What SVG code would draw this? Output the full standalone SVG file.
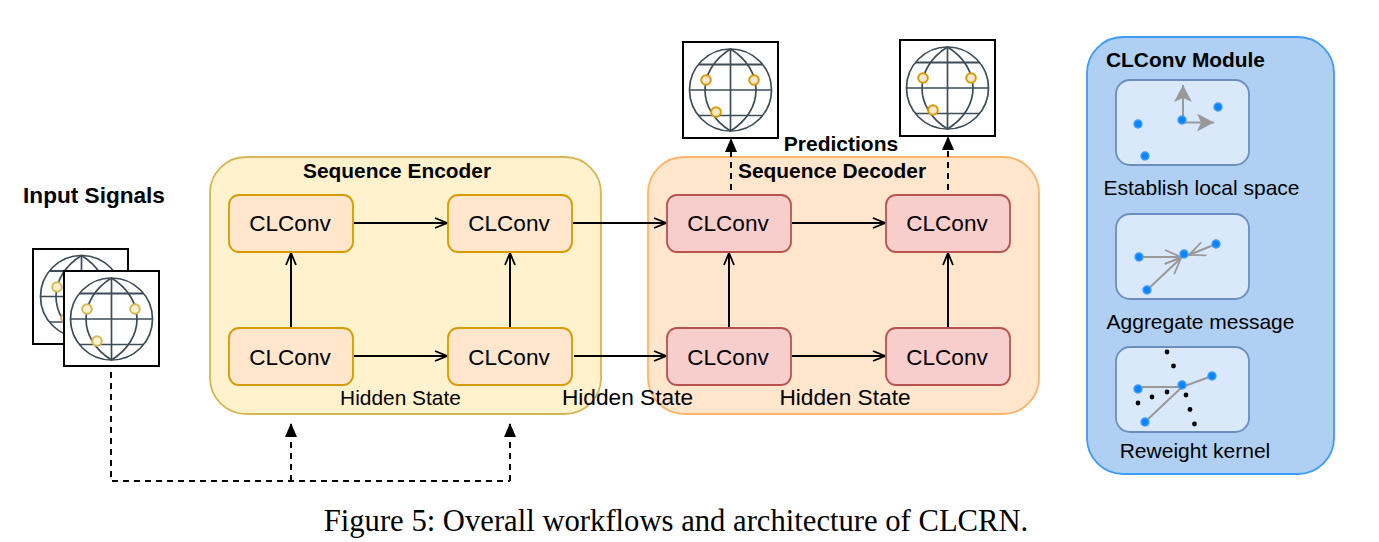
<svg xmlns="http://www.w3.org/2000/svg" xmlns:xlink="http://www.w3.org/1999/xlink" width="1379" height="542" viewBox="0 0 1379 542">
<style>
text{font-family:"Liberation Sans",Arial,sans-serif;fill:#000}
.b{font-weight:bold}
.n{font-size:22.6px;text-anchor:middle}
.enc rect{fill:#ffe6cc;stroke:#d79b00;stroke-width:1.8}
.dec rect{fill:#f8cecc;stroke:#b85450;stroke-width:1.8}
.frame{fill:#fff;stroke:#000;stroke-width:2}
.c{fill:none;stroke:#000;stroke-width:2}
.d{stroke-dasharray:6 5}
.m{fill:none;stroke:#333;stroke-width:1.8}
.in{fill:#dae8fc;stroke:#6c8ebf;stroke-width:1.8}
.g{fill:none;stroke:#999;stroke-width:2}
.p{fill:#0a84ff;stroke:#3d9bfa;stroke-width:1.5}
.k{fill:#000}
.dotY{fill:#fff2cc;stroke:#d6b656;stroke-width:2}
.dotO{fill:#ffe6cc;stroke:#d79b00;stroke-width:2}
</style>
<defs>
<g id="globe" fill="none" stroke="#3c4d58" stroke-width="1.700">
<circle r="41"/>
<path d="M0-41C-34-20-34 20 0 41C34 20 34-20 0-41Z"/>
<path d="M0-41V41M-41 0H41M-32 25.500H32"/>
<path d="M-32-25.500H32" stroke-width="2.200"/>
</g>
<marker id="o" markerWidth="15" markerHeight="13" refX="13" refY="6" orient="auto" markerUnits="userSpaceOnUse"><path d="M1 1 13 6 1 11" fill="none" stroke="#000" stroke-width="1.800"/></marker>
<marker id="om" markerWidth="18" markerHeight="14" refX="15" refY="6" orient="auto" markerUnits="userSpaceOnUse"><path d="M1 1 15 6 1 11" fill="none" stroke="#333" stroke-width="1.800"/></marker>
<marker id="f" markerWidth="14" markerHeight="14" refX="13" refY="6" orient="auto" markerUnits="userSpaceOnUse"><path d="M0 0 14 6 0 12Z" fill="#000"/></marker>
<marker id="gf" markerWidth="18" markerHeight="20" refX="17" refY="9" orient="auto" markerUnits="userSpaceOnUse"><path d="M0 0 17 9 0 18 4 9Z" fill="#999"/></marker>
<marker id="go" markerWidth="20" markerHeight="18" refX="17" refY="8" orient="auto" markerUnits="userSpaceOnUse"><path d="M1 1 17 8 1 15" fill="none" stroke="#999" stroke-width="1.800"/></marker>
</defs>

<g id="encoder"><rect x="210" y="157" width="391" height="257" rx="36" fill="#fff2cc" stroke="#d6b656" stroke-width="1.800"/><text class="b" x="397" y="178" font-size="20.900" text-anchor="middle">Sequence Encoder</text></g>
<g id="decoder"><rect x="648" y="157" width="391" height="257" rx="36" fill="#ffe6cc" stroke="#ffb366" stroke-width="1.800"/><text class="b" x="832" y="178" font-size="20.900" text-anchor="middle">Sequence Decoder</text></g>

<g id="connectors">
<path class="c" marker-end="url(#o)" d="M291 327V253"/>
<path class="c" marker-end="url(#o)" d="M510 327V253"/>
<path class="c" marker-end="url(#o)" d="M729 327V253"/>
<path class="c" marker-end="url(#o)" d="M948 327V253"/>
<path class="c" marker-end="url(#o)" d="M354 223H447"/>
<path class="c" marker-end="url(#o)" d="M573 223H666"/>
<path class="c" marker-end="url(#o)" d="M792 223H885"/>
<path class="c" marker-end="url(#o)" d="M354 356H447"/>
<path class="c" marker-end="url(#o)" d="M574 356H666"/>
<path class="c" marker-end="url(#o)" d="M792 356H885"/>
<path class="c d" marker-end="url(#f)" d="M731 190V139"/>
<path class="c d" marker-end="url(#f)" d="M948 190V137"/>
<path class="c d" d="M111 372V481H510"/>
<path class="c d" marker-end="url(#f)" d="M291 481V424"/>
<path class="c d" marker-end="url(#f)" d="M510 481V424"/>
<path class="m" marker-end="url(#om)" d="M1249 123H1315V246H1250"/>
<path class="m" marker-end="url(#om)" d="M1249 278H1315V390H1250"/>
</g>

<g id="input-back"><rect class="frame" x="33" y="249" width="95" height="95"/><use xlink:href="#globe" href="#globe" x="81.500" y="296.500"/><circle class="dotY" cx="57" cy="287" r="4.800"/><circle class="dotY" cx="66" cy="318" r="4.800"/></g>
<g id="input-front"><rect class="frame" x="64" y="271" width="95" height="95"/><use xlink:href="#globe" href="#globe" x="111.500" y="319"/><circle class="dotY" cx="87" cy="309" r="4.800"/><circle class="dotY" cx="135" cy="309" r="4.800"/><circle class="dotY" cx="97" cy="341" r="4.800"/></g>
<g id="pred-1"><rect class="frame" x="683" y="42" width="95" height="96"/><use xlink:href="#globe" href="#globe" x="730.500" y="90"/><circle class="dotO" cx="706" cy="80" r="4.800"/><circle class="dotO" cx="754" cy="80" r="4.800"/><circle class="dotO" cx="716" cy="112" r="4.800"/></g>
<g id="pred-2"><rect class="frame" x="900" y="40" width="95" height="96"/><use xlink:href="#globe" href="#globe" x="947.500" y="88"/><circle class="dotO" cx="923" cy="78" r="4.800"/><circle class="dotO" cx="971" cy="78" r="4.800"/><circle class="dotO" cx="933" cy="110" r="4.800"/></g>

<g id="enc-1" class="enc"><rect x="229" y="195" width="124" height="57" rx="10"/><text class="n" x="290" y="231">CLConv</text></g>
<g id="enc-2" class="enc"><rect x="448" y="195" width="124" height="57" rx="10"/><text class="n" x="509" y="231">CLConv</text></g>
<g id="enc-3" class="enc"><rect x="229" y="328" width="124" height="57" rx="10"/><text class="n" x="290" y="365">CLConv</text></g>
<g id="enc-4" class="enc"><rect x="448" y="328" width="124" height="57" rx="10"/><text class="n" x="509" y="365">CLConv</text></g>
<g id="dec-1" class="dec"><rect x="667" y="195" width="124" height="57" rx="10"/><text class="n" x="728" y="231">CLConv</text></g>
<g id="dec-2" class="dec"><rect x="886" y="195" width="124" height="57" rx="10"/><text class="n" x="947" y="231">CLConv</text></g>
<g id="dec-3" class="dec"><rect x="667" y="328" width="124" height="57" rx="10"/><text class="n" x="728" y="365">CLConv</text></g>
<g id="dec-4" class="dec"><rect x="886" y="328" width="124" height="57" rx="10"/><text class="n" x="947" y="365">CLConv</text></g>

<g id="labels">
<text class="b" x="94" y="203" font-size="22.600" text-anchor="middle">Input Signals</text>
<text class="b" x="841" y="151" font-size="21" text-anchor="middle">Predictions</text>
<text x="400.500" y="405" font-size="20.900" text-anchor="middle">Hidden State</text>
<text x="627.500" y="405" font-size="22.700" text-anchor="middle">Hidden State</text>
<text x="845" y="405" font-size="22.700" text-anchor="middle">Hidden State</text>
</g>

<g id="module">
<rect x="1087" y="37" width="247" height="437" rx="36" fill="#afd0f2" stroke="#3d9bfa" stroke-width="1.800"/>
<text class="b" x="1106" y="67" font-size="20.900">CLConv Module</text>
<text x="1201.500" y="195" font-size="21" text-anchor="middle">Establish local space</text>
<text x="1200.500" y="329" font-size="21" text-anchor="middle">Aggregate message</text>
<text x="1195" y="458" font-size="21" text-anchor="middle">Reweight kernel</text>
</g>
<g id="step-1">
<rect class="in" x="1116" y="80" width="133" height="85" rx="14"/>
<path class="g" marker-end="url(#gf)" d="M1183 120V85"/>
<path class="g" marker-end="url(#gf)" d="M1182 122.500H1214"/>
<circle class="p" cx="1182" cy="120" r="3.900"/><circle class="p" cx="1218" cy="107" r="3.900"/><circle class="p" cx="1138" cy="124" r="3.900"/><circle class="p" cx="1145" cy="156" r="3.900"/>
</g>
<g id="step-2">
<rect class="in" x="1116" y="214" width="133" height="85" rx="14"/>
<path class="g" marker-end="url(#go)" d="M1139 257H1181"/>
<path class="g" marker-end="url(#go)" d="M1147 290 1181 258"/>
<path class="g" marker-end="url(#go)" d="M1216 244 1189 255"/>
<circle class="p" cx="1184" cy="254" r="3.900"/><circle class="p" cx="1216" cy="244" r="3.900"/><circle class="p" cx="1139" cy="257" r="3.900"/><circle class="p" cx="1147" cy="290" r="3.900"/>
</g>
<g id="step-3">
<rect class="in" x="1116" y="347" width="133" height="85" rx="14"/>
<path class="g" d="M1138 387H1182L1212 376M1182 387 1145 422"/>
<circle class="p" cx="1182" cy="385" r="3.900"/><circle class="p" cx="1212" cy="376" r="3.900"/><circle class="p" cx="1138" cy="389" r="3.900"/><circle class="p" cx="1145" cy="422" r="3.900"/>
<g class="k"><circle cx="1167" cy="352" r="2.400"/><circle cx="1173.500" cy="366" r="2.400"/><circle cx="1138" cy="403" r="2.400"/><circle cx="1152" cy="397" r="2.400"/><circle cx="1167" cy="392" r="2.400"/><circle cx="1186" cy="395" r="2.400"/><circle cx="1190" cy="409.500" r="2.400"/><circle cx="1194.500" cy="424" r="2.400"/></g>
</g>

<text x="676" y="531" font-size="30.650" text-anchor="middle" style="font-family:'Liberation Serif','Times New Roman',serif">Figure 5: Overall workflows and architecture of CLCRN.</text>
</svg>
